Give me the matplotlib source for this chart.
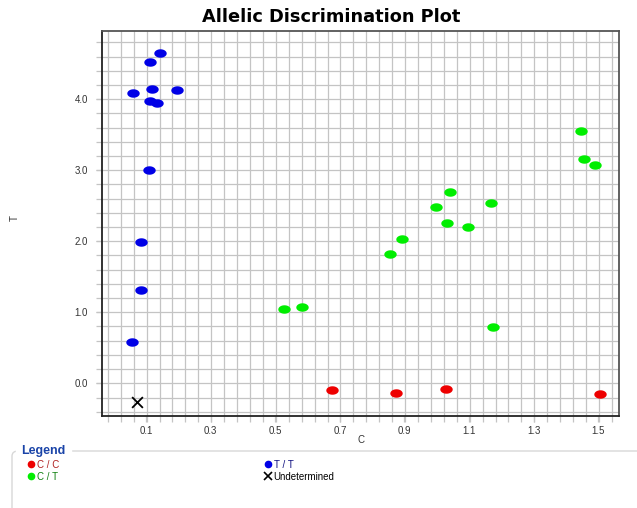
import numpy as np
import matplotlib
matplotlib.use('Agg')
import matplotlib.pyplot as plt
import matplotlib.ticker as mticker
from matplotlib.path import Path
from matplotlib.lines import Line2D
from matplotlib.patches import FancyBboxPatch

# allele C (x) vs allele T (y) signal
CC_X = [0.676, 0.873, 1.028, 1.505]
CC_Y = [-0.10, -0.14, -0.085, -0.155]

CT_X = [0.526, 0.583, 0.855, 0.893, 0.999, 1.032, 1.042, 1.097, 1.167, 1.175, 1.445, 1.455, 1.490]
CT_Y = [1.04, 1.07, 1.82, 2.03, 2.48, 2.26, 2.70, 2.20, 2.535, 0.79, 3.553, 3.163, 3.07]

TT_X = [0.143, 0.113, 0.060, 0.118, 0.196, 0.112, 0.133, 0.109, 0.085, 0.085, 0.057]
TT_Y = [4.65, 4.525, 4.09, 4.145, 4.135, 3.98, 3.95, 3.00, 1.99, 1.31, 0.586]

UND_X = [0.073]
UND_Y = [-0.26]

XTICKS = [0.1, 0.3, 0.5, 0.7, 0.9, 1.1, 1.3, 1.5]
YTICKS = [0.0, 1.0, 2.0, 3.0, 4.0]

RED, GREEN, BLUE = '#ee0000', '#00ee00', '#0000e6'

plt.rcParams['font.family'] = ['Liberation Sans', 'DejaVu Sans']

# flat ellipse marker like the original software draws
t = np.linspace(0, 2 * np.pi, 40)
ELLIPSE = Path(np.column_stack([np.cos(t), 0.68 * np.sin(t)]), closed=True)


def main():
   fig = plt.figure(figsize=(6.37, 5.08), dpi=100)
   ax = fig.add_axes([102 / 637, 1 - 416 / 508, 517 / 637, 385 / 508])

   mk = dict(marker=ELLIPSE, s=80, linewidths=0, zorder=3)
   ax.scatter(CC_X, CC_Y, color=RED, **mk)
   ax.scatter(CT_X, CT_Y, color=GREEN, **mk)
   ax.scatter(TT_X, TT_Y, color=BLUE, **mk)
   ax.scatter(UND_X, UND_Y, marker='x', s=60, color='black', linewidths=1.3, zorder=3)

   ax.set_xlim(-0.036, 1.564)
   ax.set_ylim(-0.46, 4.96)
   ax.set_xticks(XTICKS)
   ax.set_xticklabels(['%.1f' % v for v in XTICKS])
   ax.set_yticks(YTICKS)
   ax.set_yticklabels(['%.1f' % v for v in YTICKS])
   ax.xaxis.set_minor_locator(mticker.FixedLocator(np.round(np.arange(-0.018, 1.56, 0.04), 3)))
   ax.yaxis.set_minor_locator(mticker.FixedLocator(np.round(np.arange(-0.4, 4.9, 0.2), 2)))
   ax.xaxis.remove_overlapping_locs = False
   ax.yaxis.remove_overlapping_locs = False
   ax.grid(which='minor', color='#c4c4c4', linewidth=0.9, zorder=0)
   ax.grid(which='major', visible=False)
   ax.set_axisbelow(True)
   ax.tick_params(which='both', direction='out', length=4, width=0.9, color='#c4c4c4',
                  labelsize=7, labelcolor='#333333')
   ax.tick_params(axis='x', pad=3)
   ax.tick_params(axis='y', pad=6)
   for side in ['left', 'bottom']:
      ax.spines[side].set_color('#222222')
      ax.spines[side].set_linewidth(1.3)
   for side in ['top', 'right']:
      ax.spines[side].set_color('#555555')
      ax.spines[side].set_linewidth(1.3)

   ax.set_xlabel('C', fontsize=7, color='#333333')
   ax.set_ylabel('T', fontsize=7, color='#333333')
   ax.xaxis.set_label_coords(0.5, -0.05)
   ax.yaxis.set_label_coords(-0.159, 0.515)

   fig.suptitle('Allelic Discrimination Plot', x=331.5 / 637, y=1 - 8 / 508, va='top',
                fontsize=12.8, fontweight='bold', family='DejaVu Sans')

   # legend group box
   box = FancyBboxPatch((12 / 637, -0.05), 1.0, 1 - 451 / 508 + 0.05,
                        boxstyle='round,pad=0,rounding_size=0.01',
                        transform=fig.transFigure, facecolor='none',
                        edgecolor='#d8d8d8', linewidth=1.0)
   fig.patches.append(box)
   fig.text(21 / 637, 1 - 451 / 508, 'Legend', ha='left', va='center', fontsize=9,
            fontweight='bold', color='#1a44a8', backgroundcolor='white')

   handles = [Line2D([], [], ls='none', marker='o', ms=4.5, color=RED),
              Line2D([], [], ls='none', marker='o', ms=4.5, color=GREEN),
              Line2D([], [], ls='none', marker='o', ms=4.5, color=BLUE),
              Line2D([], [], ls='none', marker='x', ms=6, mew=1.2, color='black')]
   labels = ['C / C', 'C / T', 'T / T', 'Undetermined']
   fig.legend(handles, labels, ncol=2, loc='upper left',
              bbox_to_anchor=(21 / 637, 1 - 453 / 508), bbox_transform=fig.transFigure,
              frameon=False, fontsize=7,
              labelcolor=['#b02020', '#108010', '#101080', 'black'],
              handlelength=0.6, handletextpad=0.3, columnspacing=21.2,
              labelspacing=0.2, borderpad=0.2)

   plt.savefig('out.png', dpi=100)
   plt.close()


if __name__ == '__main__':
   main()
